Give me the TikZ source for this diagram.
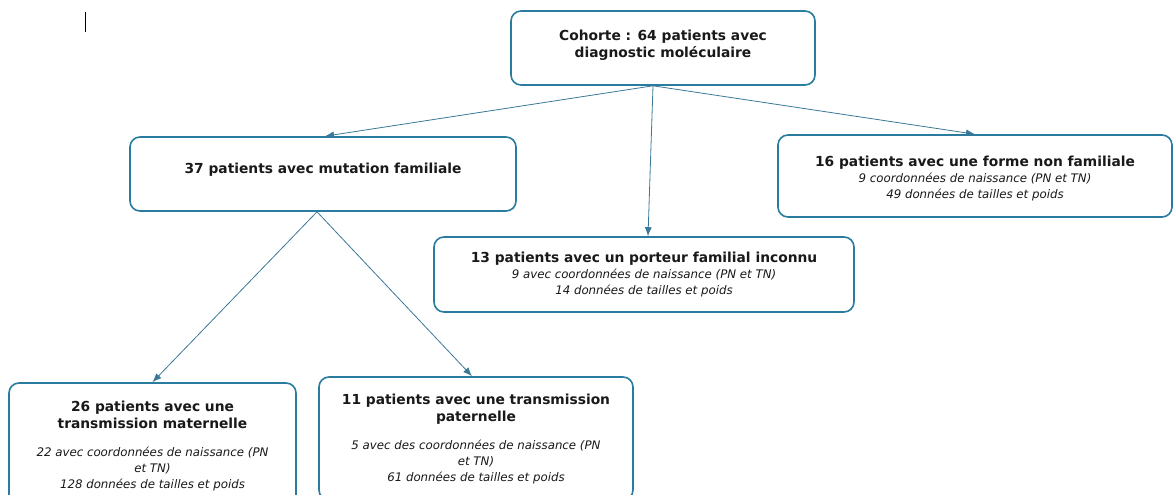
\documentclass[tikz,border=0pt]{standalone}
\usepackage{fontspec}
\setmainfont{DejaVu Sans}
\usetikzlibrary{arrows.meta}
\definecolor{boxc}{HTML}{2A7BA0}
\definecolor{linec}{HTML}{3A7898}
\newcommand{\itx}{\fontsize{11.8}{16}\selectfont\mdseries\itshape}
\tikzset{
  box/.style={draw=boxc, line width=1.6pt, rounded corners=10pt, align=center, inner sep=0pt, fill=white,
    font=\fontsize{13.8}{17}\selectfont\bfseries, text=black!90},
  conn/.style={draw=linec, line width=0.8pt, -{Latex[length=9pt,width=7pt]}},
}
\begin{document}
\begin{tikzpicture}[x=1pt,y=-1pt]
\useasboundingbox (0,0) rectangle (1173,495);
\clip (0,0) rectangle (1173,495);
\draw[line width=0.8pt] (85,12) -- (85,32);
\node[box, minimum width=304pt, minimum height=74pt, text depth=8.5pt] (top) at (663,48)
  {Cohorte : 64 patients avec\\diagnostic moléculaire};
\node[box, minimum width=386pt, minimum height=74pt, text depth=11pt] (fam) at (323,174)
  {37 patients avec mutation familiale};
\node[box, minimum width=394pt, minimum height=82pt] (nonfam) at (975,176)
  {\rule{0pt}{15.5pt}16 patients avec une forme non familiale\\[-1pt]{\itx 9 coordonnées de naissance (PN et TN)}\\[-1pt]{\itx 49 données de tailles et poids}};
\node[box, minimum width=420pt, minimum height=75pt] (inc) at (644,274.5)
  {13 patients avec un porteur familial inconnu\\[-1pt]{\itx 9 avec coordonnées de naissance (PN et TN)}\\[-1pt]{\itx 14 données de tailles et poids}};
\node[box, minimum width=287pt, minimum height=126pt] (mat) at (152.5,446)
  {26 patients avec une\\transmission maternelle\\[11pt]{\itx 22 avec coordonnées de naissance (PN}\\[-1pt]{\itx et TN)}\\[-1pt]{\itx 128 données de tailles et poids}};
\node[box, minimum width=314pt, minimum height=123pt] (pat) at (476,438.5)
  {11 patients avec une transmission\\paternelle\\[11pt]{\itx 5 avec des coordonnées de naissance (PN}\\[-1pt]{\itx et TN)}\\[-1pt]{\itx 61 données de tailles et poids}};
\coordinate (topb) at ([xshift=-10pt]top.south);
\coordinate (famb) at ([xshift=-6pt]fam.south);
\draw[conn] (topb) -- ([xshift=2pt]fam.north);
\draw[conn] (topb) -- ([xshift=4pt]inc.north);
\draw[conn] (topb) -- (nonfam.north);
\draw[conn] (famb) -- (mat.north);
\draw[conn] (famb) -- ([xshift=-4pt]pat.north);
\end{tikzpicture}
\end{document}
